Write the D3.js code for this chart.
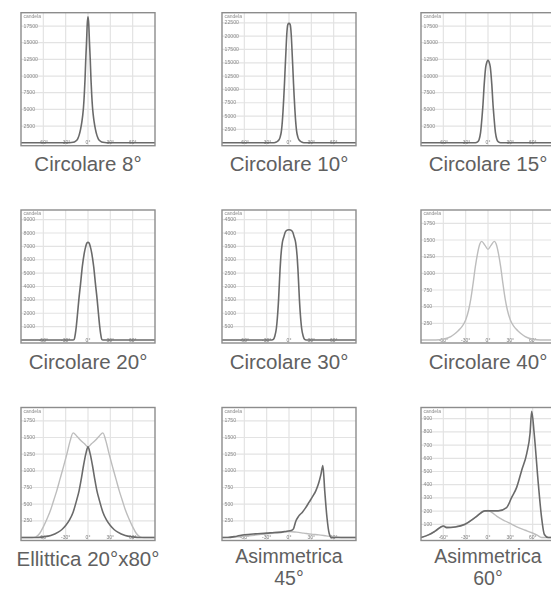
<!DOCTYPE html>
<html><head><meta charset="utf-8">
<script src="https://cdn.jsdelivr.net/npm/d3@7"></script>
<style>body{margin:0;background:#fff;} svg{display:block}</style>
</head><body>
<script>
// ---------- data ----------
const titles = [["Circolare 8°"],["Circolare 10°"],["Circolare 15°"],["Circolare 20°"],["Circolare 30°"],["Circolare 40°"],["Ellittica 20°x80°"],["Asimmetrica","45°"],["Asimmetrica","60°"]];
const yAxisLabel = "candela";
const yMax = [19500, 24400, 19500, 9720, 4860, 1950, 1950, 1950, 985];
const ticks2500 = [2500,5000,7500,10000,12500,15000,17500];
const ticks2500b = [2500,5000,7500,10000,12500,15000,17500,20000,22500];
const ticks1000 = [1000,2000,3000,4000,5000,6000,7000,8000,9000];
const ticks500 = [500,1000,1500,2000,2500,3000,3500,4000,4500];
const ticks250 = [250,500,750,1000,1250,1500,1750];
const ticks100 = [100,200,300,400,500,600,700,800,900];
const yTicks = [ticks2500, ticks2500b, ticks2500, ticks1000, ticks500, ticks250, ticks250, ticks250, ticks100];
const xTicks = [-60,-30,0,30,60];
const xTickLabels = ["-60°","-30°","0°","30°","60°"];

// curves: [angle (deg), intensity (cd)]
const circ8 = [[-90,0],[-25,0],[-20,60],[-17,200],[-14,550],[-12,1100],[-10,2000],[-8,3300],[-7,4200],[-6,5400],[-5,7200],[-4,9500],[-3,12500],[-2,15000],[-1,17800],[0,18900],[1,17800],[2,15000],[3,12500],[4,9500],[5,7200],[6,5400],[7,4200],[8,3300],[10,2000],[12,1100],[14,550],[17,200],[20,60],[25,0],[90,0]];
const circ10 = [[-90,0],[-20,0],[-17,120],[-14,450],[-12,1000],[-10,2400],[-9,3900],[-8,6000],[-7,8500],[-6,11300],[-5,14500],[-4,17500],[-3,20300],[-1.5,22200],[0,22400],[1.5,22200],[3,20300],[4,17500],[5,14500],[6,11300],[7,8500],[8,6000],[9,3900],[10,2400],[12,1000],[14,450],[17,120],[20,0],[90,0]];
const circ15 = [[-90,0],[-17,0],[-14,120],[-12,450],[-10,1500],[-8,3900],[-7,5300],[-5,8900],[-3,11400],[-1.5,12100],[0,12400],[1.5,12100],[3,11400],[5,8900],[7,5300],[8,3900],[10,1500],[12,450],[14,120],[17,0],[90,0]];
const circ20 = [[-90,0],[-20,0],[-18.6,40],[-17,450],[-15.7,1030],[-14,2000],[-12.3,3020],[-10,4200],[-7.6,5500],[-5,6500],[-3,7000],[-1.5,7250],[0,7300],[1.5,7250],[3,7000],[5,6500],[7.6,5500],[10,4200],[12.3,3020],[14,2000],[15.7,1030],[17,450],[18.6,40],[20,0],[90,0]];
const circ30 = [[-90,0],[-23,0],[-21,20],[-19,150],[-17,430],[-16,700],[-14,1510],[-12,2650],[-11,3100],[-9,3630],[-7,3850],[-4.5,4060],[-2,4110],[0,4120],[2,4110],[4.5,4060],[7,3850],[9,3630],[11,3100],[12,2650],[14,1510],[16,700],[17,430],[19,150],[21,20],[23,0],[90,0]];
const circ40 = [[-90,0],[-70,0],[-60,12],[-50,50],[-45,90],[-40,140],[-35,200],[-30,300],[-26,450],[-23,620],[-20,850],[-17,1100],[-14,1300],[-11,1440],[-8.5,1480],[-4,1420],[0,1360],[4,1420],[8.5,1480],[11,1440],[14,1300],[17,1100],[20,850],[23,620],[26,450],[30,300],[35,200],[40,140],[45,90],[50,50],[60,12],[70,0],[90,0]];
const ellDark = [[-90,0],[-70,0],[-60,10],[-50,30],[-40,80],[-35,120],[-30,180],[-25,260],[-20,380],[-15,570],[-12,700],[-9,880],[-6,1080],[-3,1250],[0,1360],[3,1250],[6,1080],[9,880],[12,700],[15,570],[20,380],[25,260],[30,180],[35,120],[40,80],[50,30],[60,10],[70,0],[90,0]];
const ellLight = [[-90,0],[-75,0],[-70,10],[-65,60],[-60,160],[-55,280],[-50,420],[-46,560],[-42,700],[-38,860],[-33,1060],[-28,1270],[-24,1450],[-20,1570],[-15,1520],[-10,1460],[-5,1410],[0,1360],[5,1410],[10,1460],[15,1520],[20,1570],[24,1450],[28,1270],[33,1060],[38,860],[42,700],[46,560],[50,420],[55,280],[60,160],[65,60],[70,10],[75,0],[90,0]];
const asy45Dark = [[-90,0],[-82,0],[-70,20],[-60,40],[-45,55],[-30,65],[-20,75],[-10,80],[-3,95],[3,105],[6,130],[9,240],[13,320],[18,380],[22,440],[27,530],[32,620],[36,700],[40,820],[43,950],[45.5,1080],[48,700],[51,300],[54,60],[57,0],[90,0]];
const asy45Light = [[-90,0],[-70,10],[-50,30],[-30,55],[-10,75],[0,90],[10,80],[20,65],[30,50],[40,40],[50,25],[60,10],[70,0],[90,0]];
const asy60Dark = [[-90,0],[-80,20],[-71,48],[-60,87],[-55.5,74],[-44,79],[-31,100],[-17.5,150],[-4,202],[2.7,202],[13.8,202],[25,227],[31.8,304],[38.5,380],[45.2,508],[52,636],[56.5,790],[58.7,956],[62,790],[67.6,406],[72,150],[75.7,23],[81,0],[90,0]];
const asy60Light = [[-90,0],[-80,20],[-71,48],[-60,85],[-50,78],[-40,85],[-30,100],[-18,150],[-5,200],[0,205],[5,190],[12,160],[23,125],[32,100],[41,74],[50,55],[59,36],[66,18],[72,0],[90,0]];

const darkSeries = [circ8, circ10, circ15, circ20, circ30, null, ellDark, asy45Dark, asy60Dark];
const lightSeries = [null, null, null, null, null, circ40, ellLight, asy45Light, asy60Light];

// ---------- layout ----------
const W = 551, H = 589;
const colLeft = [21, 222, 421];
const rowTop = [12.7, 210, 407.5];
const pw = 134, ph = 133;

const svg = d3.select("body").append("svg").attr("width", W).attr("height", H);
const defs = svg.append("defs");
defs.append("filter").attr("id","soft").attr("x","-5%").attr("y","-5%").attr("width","110%").attr("height","110%")
  .append("feGaussianBlur").attr("stdDeviation", 0.45);

titles.forEach((t, i) => {
  const left = colLeft[i % 3], top = rowTop[Math.floor(i / 3)];
  const bottom = top + ph;
  const x = d3.scaleLinear().domain([-90, 90]).range([left, left + pw]);
  const y = d3.scaleLinear().domain([0, yMax[i]]).range([bottom - 3, top]);

  defs.append("clipPath").attr("id", "clip" + i)
    .append("rect").attr("x", left).attr("y", top).attr("width", pw).attr("height", ph);

  const g = svg.append("g").attr("filter", "url(#soft)");
  // grid
  const grid = g.append("g").attr("clip-path", `url(#clip${i})`);
  grid.selectAll("line.h").data(yTicks[i]).join("line")
    .attr("x1", left).attr("x2", left + pw)
    .attr("y1", d => y(d)).attr("y2", d => y(d))
    .attr("stroke", "#e3e3e3").attr("stroke-width", 1.2);
  grid.selectAll("line.v").data(xTicks).join("line")
    .attr("x1", d => x(d)).attr("x2", d => x(d))
    .attr("y1", top).attr("y2", bottom)
    .attr("stroke", "#e3e3e3").attr("stroke-width", 1.2);

  // y tick labels
  g.selectAll("text.yl").data(yTicks[i]).join("text")
    .attr("x", left + 2.5).attr("y", d => y(d)).attr("dy", "0.3em")
    .attr("font-family", "Liberation Sans, Arial, sans-serif").attr("font-size", 5.2)
    .attr("fill", "#8a8a8a").text(d => d);
  g.append("text").attr("x", left + 2.5).attr("y", top + 5)
    .attr("font-family", "Liberation Sans, Arial, sans-serif").attr("font-size", 5)
    .attr("fill", "#8a8a8a").text(yAxisLabel);
  // x tick labels
  g.selectAll("text.xl").data(xTicks).join("text")
    .attr("x", d => x(d)).attr("y", bottom - 1.5).attr("text-anchor", "middle")
    .attr("font-family", "Liberation Sans, Arial, sans-serif").attr("font-size", 5)
    .attr("fill", "#7a7a7a").text((d, k) => xTickLabels[k]);

  const line = d3.line().x(d => x(d[0])).y(d => y(d[1])).curve(d3.curveMonotoneX);
  const curves = g.append("g").attr("clip-path", `url(#clip${i})`);
  if (lightSeries[i]) curves.append("path").datum(lightSeries[i]).attr("d", line)
    .attr("fill", "none").attr("stroke", "#bdbdbd").attr("stroke-width", 1.4);
  if (darkSeries[i]) curves.append("path").datum(darkSeries[i]).attr("d", line)
    .attr("fill", "none").attr("stroke", "#6b6b6b").attr("stroke-width", 1.6);

  // border
  g.append("rect").attr("x", left).attr("y", top).attr("width", pw).attr("height", ph)
    .attr("fill", "none").attr("stroke", "#8c8c8c").attr("stroke-width", 1.4);

  // caption (two-line captions slightly smaller so they fit above the bottom edge)
  const multi = t.length > 1;
  const fs = multi ? 19.5 : 20.5;
  t.forEach((s, k) => svg.append("text").attr("text-anchor", "middle")
    .attr("font-family", "Liberation Sans, Arial, Helvetica, sans-serif")
    .attr("font-size", fs).attr("fill", "#606060")
    .attr("x", left + pw / 2).attr("y", multi ? bottom + 22 + k * 22.2 : bottom + 25.5)
    .text(s));
});
</script>
</body></html>
